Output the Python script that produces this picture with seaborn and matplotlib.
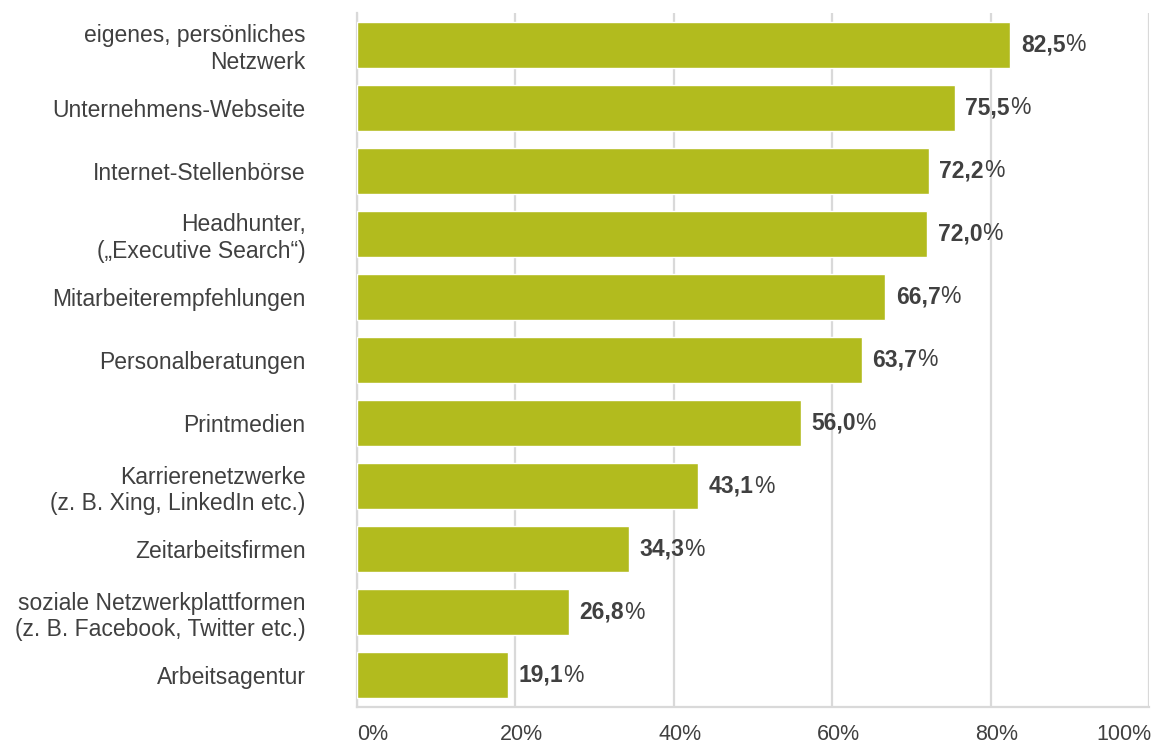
import matplotlib
matplotlib.use("Agg")
import matplotlib.pyplot as plt
import matplotlib.transforms as mtransforms
import seaborn as sns
import pandas as pd

# Recruiting channels and share of companies using them
categories = [
    "eigenes, persönliches\nNetzwerk",
    "Unternehmens-Webseite",
    "Internet-Stellenbörse",
    "Headhunter,\n(„Executive Search“)",
    "Mitarbeiterempfehlungen",
    "Personalberatungen",
    "Printmedien",
    "Karrierenetzwerke\n(z. B. Xing, LinkedIn etc.)",
    "Zeitarbeitsfirmen",
    "soziale Netzwerkplattformen\n(z. B. Facebook, Twitter etc.)",
    "Arbeitsagentur",
]
values = [82.5, 75.5, 72.2, 72.0, 66.7, 63.7, 56.0, 43.1, 34.3, 26.8, 19.1]
x_ticks = [0, 20, 40, 60, 80, 100]
x_tick_labels = ["0%", "20%", "40%", "60%", "80%", "100%"]

BAR_COLOR = "#B2BB1E"
TEXT_COLOR = "#404040"
GRID_COLOR = "#D9D9D9"

sns.set_theme(style="white")
plt.rcParams["font.family"] = ["Liberation Sans", "DejaVu Sans"]

df = pd.DataFrame({"Kanal": categories, "Anteil": values})

fig = plt.figure(figsize=(11.64, 7.47), dpi=100)
ax = fig.add_axes([357 / 1164, 1 - 707 / 747, 792 / 1164, 694 / 747])

sns.barplot(data=df, y="Kanal", x="Anteil", order=categories, orient="h",
            color=BAR_COLOR, saturation=1, width=0.73, ax=ax, zorder=3)

ax.set_xlim(0, 100)
ax.set_ylim(len(categories) - 0.5, -0.5)
ax.set_xlabel("")
ax.set_ylabel("")

# vertical grid behind the bars
ax.set_axisbelow(True)
ax.xaxis.grid(True, color=GRID_COLOR, linewidth=1.6)
ax.yaxis.grid(False)

for side in ["top", "right"]:
    ax.spines[side].set_visible(False)
for side in ["left", "bottom"]:
    ax.spines[side].set_visible(True)
    ax.spines[side].set_color(GRID_COLOR)
    ax.spines[side].set_linewidth(1.6)

ax.set_xticks(x_ticks)
ax.set_xticklabels(x_tick_labels)
ax.tick_params(axis="x", length=0, pad=12.5, labelsize=15.5, labelcolor=TEXT_COLOR)
ax.tick_params(axis="y", length=0, pad=37, labelsize=16.5, labelcolor=TEXT_COLOR)

# keep the outer tick labels inside the plot width
for i, lbl in enumerate(ax.get_xticklabels()):
    if i == 0:
        lbl.set_ha("left")
    elif i == len(x_ticks) - 1:
        lbl.set_ha("right")
        lbl.set_transform(lbl.get_transform() + mtransforms.ScaledTranslation(0.03, 0, fig.dpi_scale_trans))
    else:
        lbl.set_transform(lbl.get_transform() + mtransforms.ScaledTranslation(0.06, 0, fig.dpi_scale_trans))

# value labels: bold number followed by a regular percent sign
for patch, v in zip(ax.patches, values):
    y = patch.get_y() + patch.get_height() / 2
    num = ax.annotate(f"{v:.1f}".replace(".", ","), xy=(patch.get_width(), y),
                      xytext=(7.5, 0), textcoords="offset points",
                      ha="left", va="center", fontsize=16.5, fontweight="bold",
                      color=TEXT_COLOR)
    ax.annotate("%", xy=(1, 0), xycoords=num, ha="left", va="bottom",
                fontsize=16.5, color=TEXT_COLOR)

fig.savefig("out.png", dpi=100, facecolor="white")
